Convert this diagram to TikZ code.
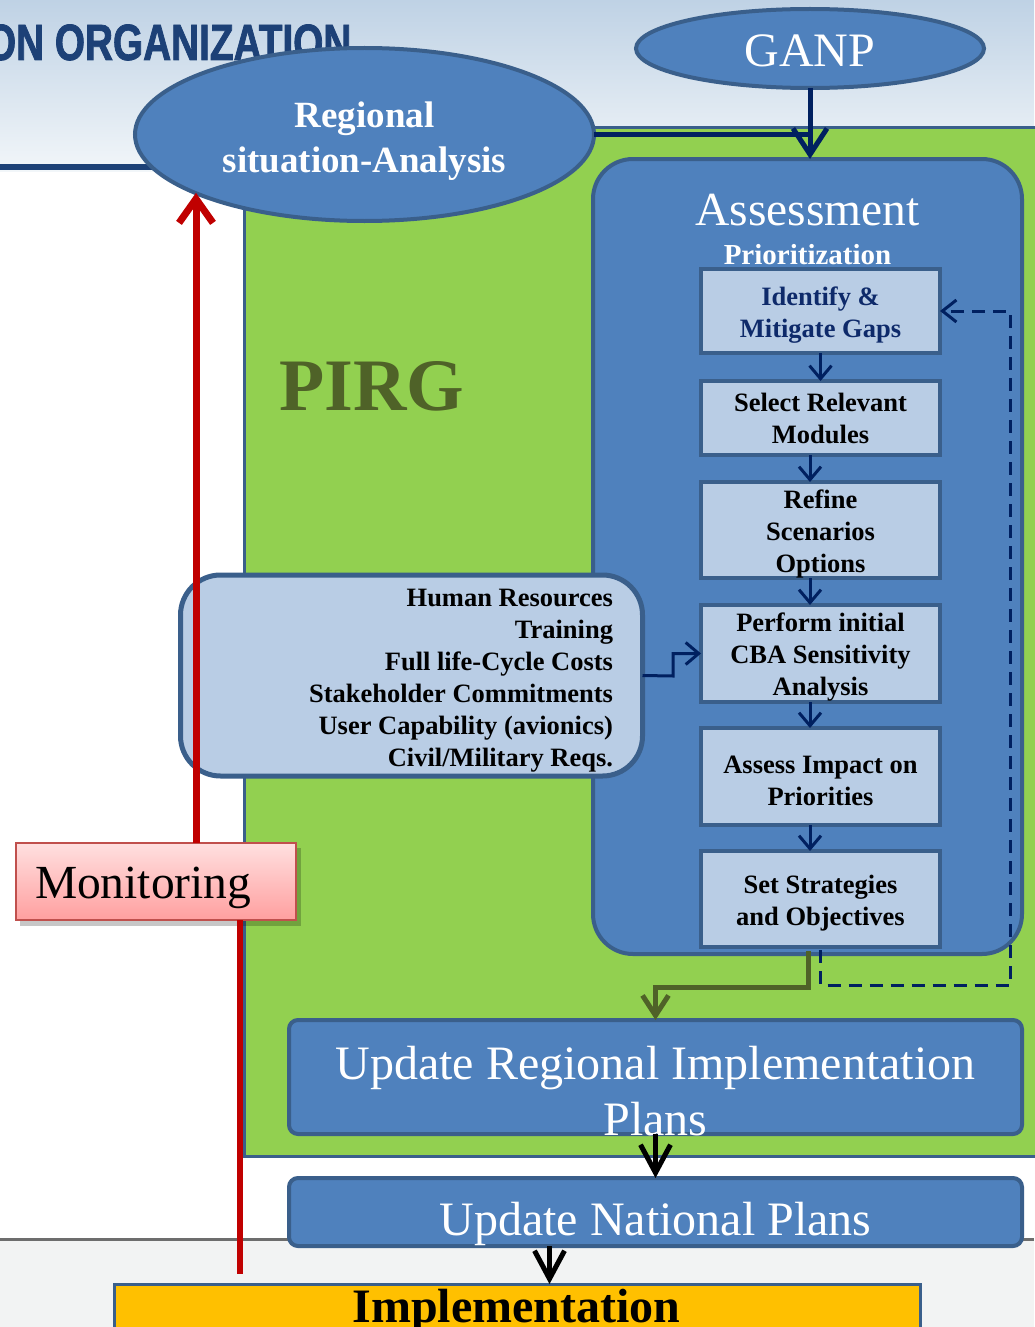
\documentclass[tikz,border=0pt]{standalone}
\usepackage{fontspec}
\setmainfont{Liberation Serif}
\newfontfamily\hdrfont{Liberation Sans}[FakeStretch=0.76, BoldFeatures={FakeBold=1.5}]
\usetikzlibrary{arrows.meta,shapes.geometric,calc}
\definecolor{blueFill}{HTML}{4F81BD}
\definecolor{boxBorder}{HTML}{3A5F8B}
\definecolor{lightBlue}{HTML}{B9CDE5}
\definecolor{pirgGreen}{HTML}{92D050}
\definecolor{navy}{HTML}{002060}
\definecolor{oliveDk}{HTML}{4F6228}
\definecolor{redLine}{HTML}{C00000}
\definecolor{gold}{HTML}{FFC000}
\definecolor{hdrBlue}{HTML}{1D4177}
\definecolor{grayLine}{HTML}{6D6D6D}
\definecolor{grayBg}{HTML}{F2F3F3}
\definecolor{monTop}{HTML}{FFE0E0}
\definecolor{monBot}{HTML}{FF9F9F}
\definecolor{monBorder}{HTML}{C0504D}
\definecolor{idBlue}{HTML}{0E2A6A}
\definecolor{skyA}{HTML}{BFD2E5}
\definecolor{skyB}{HTML}{F2F6F9}
\newcommand{\lowstrut}{\rule{0pt}{26pt}}
\begin{document}
\begin{tikzpicture}[x=1pt,y=-1pt,
  every node/.style={inner sep=0pt, outer sep=0pt},
  ellnode/.style={ellipse, fill=blueFill, draw=boxBorder, line width=4pt},
  stepbox/.style={draw=boxBorder, line width=4pt, fill=lightBlue, minimum width=239pt,
    align=center, font=\bfseries\fontsize{26.5}{32}\selectfont},
  bigbox/.style={draw=boxBorder, line width=4pt, fill=blueFill, rounded corners=9pt,
    minimum width=733pt, anchor=north west},
  whitebig/.style={text=white, font=\fontsize{48}{56}\selectfont, align=center},
  navyarr/.style={draw=navy, line width=3pt, -{Straight Barb[length=13pt,width=22pt]}},
  blackarr/.style={draw=black, line width=5pt, -{Straight Barb[length=28pt,width=30pt]}},
]
\useasboundingbox (0,0) rectangle (1034,1327);

% background
\shade[top color=skyA, bottom color=skyB] (0,0) rectangle (1034,172);
\fill[white] (0,172) rectangle (1034,1239);
\fill[grayBg] (0,1239) rectangle (1034,1327);
\draw[grayLine, line width=3pt] (0,1239) -- (1034,1239);

% header
\node[anchor=base west, font=\hdrfont\bfseries\fontsize{51}{51}\selectfont, text=hdrBlue] (hdr) at (-14,60) {ON ORGANIZATION};
\draw[hdrBlue, line width=6pt] (0,167) -- (200,167);

% PIRG region
\node[draw=boxBorder, fill=pirgGreen, line width=3pt, minimum width=800pt, minimum height=1028pt, anchor=north west] (pirg) at (244,128) {};

% Regional ellipse
\node[ellnode, minimum width=459pt, minimum height=173pt] (reg) at (364.5,134.5) {};
\node[text=white, font=\bfseries\fontsize{37}{45}\selectfont, align=center] (regt) at (364.5,141) {Regional\\situation-Analysis};

% GANP ellipse
\node[ellnode, minimum width=348pt, minimum height=79pt] (ganp) at (810,48.5) {};
\node[text=white, font=\fontsize{48}{48}\selectfont, anchor=base] (ganpt) at (810,67) {GANP};

% Assessment box
\node[draw=boxBorder, fill=blueFill, line width=4pt, rounded corners=40pt, minimum width=429pt, minimum height=795pt, anchor=north west] (ass) at (593,159) {};
\node[text=white, font=\fontsize{47.5}{47.5}\selectfont, anchor=base] (asst) at (807.5,225) {Assessment};
\node[text=white, font=\bfseries\fontsize{29}{29}\selectfont, anchor=base] (prio) at (807.5,264) {Prioritization};

% connectors into Assessment
\draw[navy, line width=5pt] (reg.east) -- (ganp.south |- reg.east);
\draw[navy, line width=5pt, -{Straight Barb[length=26pt,width=34pt]}] (ganp.south) -- (ganp.south |- ass.north);

% step boxes
\node[stepbox, minimum height=84pt, text=idBlue] (b1) at (820.5,311) {\lowstrut Identify \&\\Mitigate Gaps};
\node[stepbox, minimum height=74pt] (b2) at (820.5,418) {Select Relevant\\Modules};
\node[stepbox, minimum height=96pt] (b3) at (820.5,530) {\lowstrut Refine\\Scenarios\\Options};
\node[stepbox, minimum height=97pt] (b4) at (820.5,653.5) {\lowstrut Perform initial\\CBA Sensitivity\\Analysis};
\node[stepbox, minimum height=97pt] (b5) at (820.5,776.5) {\lowstrut Assess Impact on\\Priorities};
\node[stepbox, minimum height=96pt] (b6) at (820.5,899) {\lowstrut Set Strategies\\and Objectives};

\draw[navyarr] (b1.south) -- (b2.north);
\draw[navyarr] ([xshift=-10.5pt]b2.south) -- ([xshift=-10.5pt]b3.north);
\draw[navyarr] ([xshift=-10.5pt]b3.south) -- ([xshift=-10.5pt]b4.north);
\draw[navyarr] ([xshift=-10.5pt]b4.south) -- ([xshift=-10.5pt]b5.north);
\draw[navyarr] ([xshift=-10.5pt]b5.south) -- ([xshift=-10.5pt]b6.north);

% dashed feedback loop
\coordinate (loopA) at (1010,985);
\draw[navy, line width=3pt, dash pattern=on 13pt off 8pt, -{Straight Barb[length=14pt,width=22pt]}] ([yshift=-3pt]b6.south) |- (loopA) |- (b1.east);

% update regional plans box (needed for the olive connector)
\node[bigbox, minimum height=114pt] (upd1) at (289,1020) {};

% olive arrow to regional plans
\coordinate (olA) at (655.5,987);
\draw[oliveDk, line width=5pt, -{Straight Barb[length=20pt,width=26pt]}] ([xshift=-12.5pt,yshift=-4pt]b6.south) |- (olA) -- (upd1.north);

% PIRG label
\node[text=oliveDk, font=\bfseries\fontsize{74}{74}\selectfont, anchor=base] (pirgt) at (372,410) {PIRG};

% human factors box
\node[draw=boxBorder, fill=lightBlue, line width=5pt, rounded corners=40pt, minimum width=462pt, minimum height=201pt] (hum) at (411.5,675.5) {};
\node[anchor=east, align=right, font=\bfseries\fontsize{26.5}{32}\selectfont] (humt) at (613,681) {Human Resources\\Training\\Full life-Cycle Costs\\Stakeholder Commitments\\User Capability (avionics)\\Civil/Military Reqs.};
\coordinate (humA) at (673,676);
\draw[navyarr] (hum.east) -- (humA) |- (b4.west);

% monitoring
\fill[black, opacity=0.22] (20,848) rectangle (301,926);
\node[draw=monBorder, line width=1.5pt, top color=monTop, bottom color=monBot, minimum width=280pt, minimum height=77pt, anchor=north west] (mon) at (16,843) {};
\node[anchor=base west, font=\fontsize{47.5}{47.5}\selectfont] (mont) at (35,898) {Monitoring};
\draw[redLine, line width=7pt, -{Straight Barb[length=24pt,width=34pt]}] ([xshift=40pt]mon.north) -- ([xshift=40pt]mon.north |- reg.199);
\coordinate (redEnd) at (240,1274);
\draw[redLine, line width=6pt] ([xshift=84pt]mon.south) -- (redEnd);

% update plans texts and national plans
\node[whitebig] (upd1t) at (655.5,1091) {Update Regional Implementation\\Plans};
\node[bigbox, minimum height=68pt] (upd2) at (289,1178) {};
\node[whitebig, anchor=base] (upd2t) at (655.5,1235) {Update National Plans};
\draw[blackarr] (upd1.south) -- (upd2.north);

% implementation
\node[draw=boxBorder, fill=gold, line width=3pt, minimum width=806pt, minimum height=70pt, anchor=north west] (impl) at (114,1284) {};
\node[font=\bfseries\fontsize{48}{48}\selectfont, anchor=base] (implt) at (516.5,1322) {Implementation};
\draw[blackarr] ([xshift=-106pt]upd2.south) -- ([xshift=-106pt]upd2.south |- impl.north);
\end{tikzpicture}
\end{document}
